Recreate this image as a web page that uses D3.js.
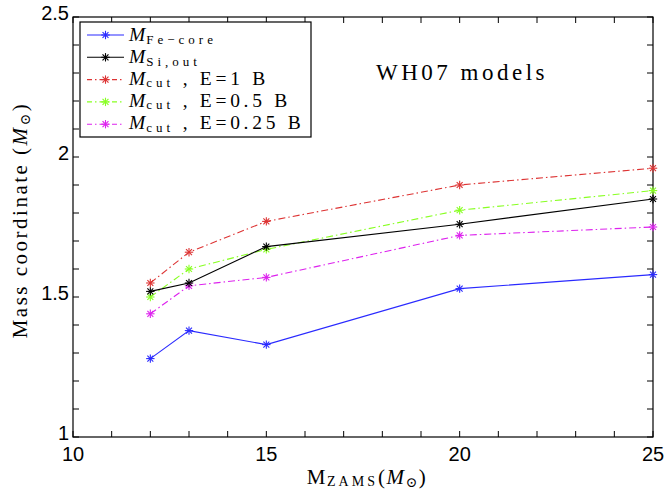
<!DOCTYPE html>
<html>
<head>
<meta charset="utf-8">
<script src="https://cdn.jsdelivr.net/npm/d3@7"></script>
<style>
  body { margin: 0; background: #fff; }
  svg { display: block; }
</style>
</head>
<body>
<div id="root"></div>
<script>
const masses = [12, 13, 15, 20, 25];
const feCore = [1.28, 1.38, 1.33, 1.53, 1.58];
const siOut = [1.52, 1.55, 1.68, 1.76, 1.85];
const cutE1 = [1.55, 1.66, 1.77, 1.90, 1.96];
const cutE05 = [1.50, 1.60, 1.67, 1.81, 1.88];
const cutE025 = [1.44, 1.54, 1.57, 1.72, 1.75];

const xTicks = [10, 15, 20, 25];
const yTicks = [1, 1.5, 2, 2.5];

const series = [
  { sub: "Fe\u2212core", suffix: "", values: feCore, color: "#2a2aff", dash: null },
  { sub: "Si,out", suffix: "", values: siOut, color: "#000000", dash: null },
  { sub: "cut", suffix: " , E=1 B", values: cutE1, color: "#dd3333", dash: "7,3,1.5,3" },
  { sub: "cut", suffix: " , E=0.5 B", values: cutE05, color: "#88ff22", dash: "7,3,1.5,3" },
  { sub: "cut", suffix: " , E=0.25 B", values: cutE025, color: "#dd22ee", dash: "7,3,1.5,3" }
];

const width = 665;
const height = 493;
const margin = { left: 73, right: 12, top: 17, bottom: 56 };

var svg = d3.select("#root").append("svg")
  .attr("width", width)
  .attr("height", height);

var x = d3.scaleLinear()
  .domain([10, 25])
  .range([margin.left, width - margin.right]);

var y = d3.scaleLinear()
  .domain([1, 2.5])
  .range([height - margin.bottom, margin.top]);

const serif = "'Liberation Serif', 'DejaVu Serif', serif";
const sans = "'Liberation Sans', Arial, sans-serif";

// axes with inward ticks on all sides
var minorLen = 6;
var xMinor = d3.range(10, 25.01, 1);
var yMinor = d3.range(1, 2.501, 0.1);

var axes = svg.append("g");

axes.append("rect")
  .attr("x", x(10)).attr("y", y(2.5))
  .attr("width", x(25) - x(10)).attr("height", y(1) - y(2.5))
  .attr("fill", "none").attr("stroke", "#000").attr("stroke-width", 1.2);

xMinor.forEach(v => {
  axes.append("line")
    .attr("x1", x(v)).attr("x2", x(v))
    .attr("y1", y(1)).attr("y2", y(1) - minorLen)
    .attr("stroke", "#000");
  axes.append("line")
    .attr("x1", x(v)).attr("x2", x(v))
    .attr("y1", y(2.5)).attr("y2", y(2.5) + minorLen)
    .attr("stroke", "#000");
});

yMinor.forEach(v => {
  axes.append("line")
    .attr("x1", x(10)).attr("x2", x(10) + minorLen)
    .attr("y1", y(v)).attr("y2", y(v))
    .attr("stroke", "#000");
  axes.append("line")
    .attr("x1", x(25)).attr("x2", x(25) - minorLen)
    .attr("y1", y(v)).attr("y2", y(v))
    .attr("stroke", "#000");
});

axes.selectAll(".xlab")
  .data(xTicks)
  .enter().append("text")
  .attr("x", d => x(d))
  .attr("y", y(1) + 24)
  .attr("text-anchor", "middle")
  .attr("font-family", sans)
  .attr("font-size", 20)
  .text(d => d);

axes.selectAll(".ylab")
  .data(yTicks)
  .enter().append("text")
  .attr("x", x(10) - 4)
  .attr("y", d => y(d) + 3)
  .attr("text-anchor", "end")
  .attr("font-family", sans)
  .attr("font-size", 20)
  .text(d => d);

// axis titles
var xt = svg.append("text")
  .attr("x", 367)
  .attr("y", 484)
  .attr("text-anchor", "middle")
  .attr("font-family", serif)
  .attr("font-size", 21)
  .attr("letter-spacing", 1.5);
xt.append("tspan").text("M");
xt.append("tspan").attr("font-size", 14).attr("letter-spacing", 3).attr("dy", 2).text("ZAMS");
xt.append("tspan").attr("dy", -2).text("(");
xt.append("tspan").attr("font-style", "italic").text("M");
xt.append("tspan").attr("font-size", 14).attr("dy", 3).text("\u2299");
xt.append("tspan").attr("dy", -3).text(")");

var yt = svg.append("text")
  .attr("transform", "translate(27,220) rotate(-90)")
  .attr("text-anchor", "middle")
  .attr("font-family", serif)
  .attr("font-size", 21)
  .attr("letter-spacing", 2.5);
yt.append("tspan").text("Mass coordinate (");
yt.append("tspan").attr("font-style", "italic").text("M");
yt.append("tspan").attr("font-size", 14).attr("dy", 3).text("\u2299");
yt.append("tspan").attr("dy", -3).text(")");

svg.append("text")
  .attr("x", 462)
  .attr("y", 80)
  .attr("text-anchor", "middle")
  .attr("font-family", serif)
  .attr("font-size", 23)
  .attr("letter-spacing", 3.5)
  .text("WH07 models");

// lines and markers
var line = d3.line()
  .x((d, i) => x(masses[i]))
  .y(d => y(d));

function star(g, cx, cy, color) {
  var r = 4.2;
  for (var k = 0; k < 4; k++) {
    var a = k * Math.PI / 4;
    g.append("line")
      .attr("x1", cx - r * Math.cos(a)).attr("y1", cy - r * Math.sin(a))
      .attr("x2", cx + r * Math.cos(a)).attr("y2", cy + r * Math.sin(a))
      .attr("stroke", color).attr("stroke-width", 1.1);
  }
}

var plot = svg.append("g");
// draw cut series first, then Si and Fe on top
[2, 3, 4, 1, 0].forEach(i => {
  var s = series[i];
  plot.append("path")
    .attr("d", line(s.values))
    .attr("fill", "none")
    .attr("stroke", s.color)
    .attr("stroke-width", 1.1)
    .attr("stroke-dasharray", s.dash);
  s.values.forEach((v, j) => star(plot, x(masses[j]), y(v), s.color));
});

// legend
var legend = svg.append("g");
legend.append("rect")
  .attr("x", 80).attr("y", 22)
  .attr("width", 231).attr("height", 115)
  .attr("fill", "#fff").attr("stroke", "#000").attr("stroke-width", 1.2);

series.forEach((s, i) => {
  var ly = 35 + i * 22.3;
  legend.append("line")
    .attr("x1", 87).attr("x2", 124)
    .attr("y1", ly).attr("y2", ly)
    .attr("stroke", s.color).attr("stroke-width", 1.1)
    .attr("stroke-dasharray", s.dash ? "5,3,1.5,3" : null);
  star(legend, 105.5, ly, s.color);
  var t = legend.append("text")
    .attr("x", 129)
    .attr("y", ly + (s.suffix ? 5 : 6))
    .attr("font-family", serif)
    .attr("font-size", 19.5);
  t.append("tspan").attr("font-style", "italic").attr("letter-spacing", 1).text("M");
  t.append("tspan").attr("font-size", 13).attr("dy", 2.5).attr("letter-spacing", 4).text(s.sub);
  if (s.suffix) t.append("tspan").attr("dy", -2.5).attr("letter-spacing", 3.7).text(s.suffix);
});
</script>
</body>
</html>
